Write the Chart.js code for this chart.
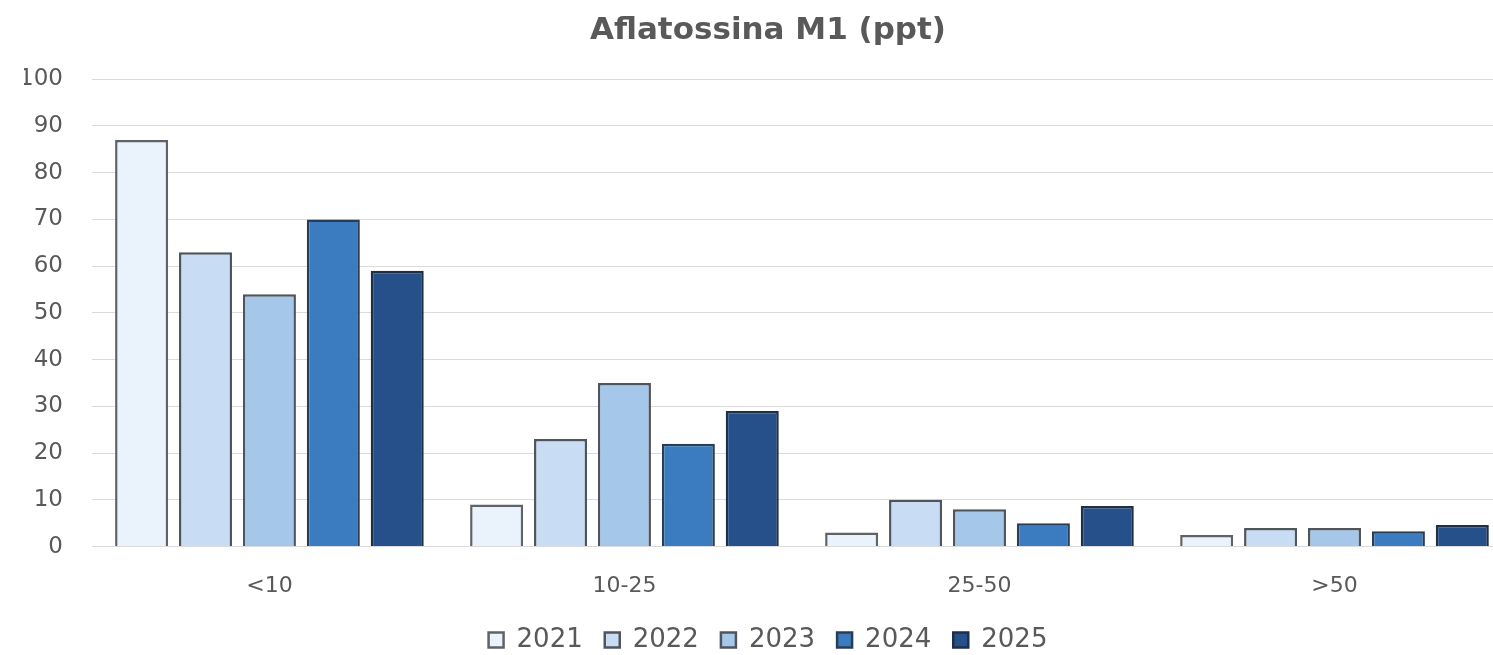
<!DOCTYPE html>
<html lang="it">
<head>
    <meta charset="UTF-8">
    <title>Aflatossina M1 (ppt)</title>
    <script src="https://cdn.jsdelivr.net/npm/chart.js"></script>
    <style>
        html, body {
            margin: 0;
            padding: 0;
            background: #ffffff;
            overflow: hidden;
        }
        /* il grafico originale è tagliato a destra: canvas un po' più largo della finestra */
        .chart-box {
            width: 1512px;
            height: 655px;
        }
    </style>
</head>
<body>
    <div class="chart-box">
        <canvas id="aflaChart"></canvas>
    </div>

    <script>
        // Dati
        const categories = ['<10', '10-25', '25-50', '>50'];
        const years = ['2021', '2022', '2023', '2024', '2025'];
        const values2021 = [87, 9, 3, 2.5];
        const values2022 = [63, 23, 10, 4];
        const values2023 = [54, 35, 8, 4];
        const values2024 = [70, 22, 5, 3.3];
        const values2025 = [59, 29, 8.7, 4.6];
        const yTicks = [0, 10, 20, 30, 40, 50, 60, 70, 80, 90, 100];

        const seriesValues = [values2021, values2022, values2023, values2024, values2025];
        const fillColors = ['#eaf2fc', '#c8ddf4', '#a4c7ea', '#3a7cbf', '#25508a'];
        const edgeColors = ['#5f6368', '#4f555c', '#4f555c', '#2b3d55', '#1f2f46'];

        const textColor = '#595959';
        const fontFamily = "'DejaVu Sans', Verdana, sans-serif";

        const datasets = years.map((year, i) => ({
            label: year,
            data: seriesValues[i],
            backgroundColor: fillColors[i],
            borderColor: edgeColors[i],
            borderWidth: 2.5,
            categoryPercentage: 0.9,
            barPercentage: 0.83
        }));

        const ctx = document.getElementById('aflaChart').getContext('2d');
        new Chart(ctx, {
            type: 'bar',
            data: {
                labels: categories,
                datasets: datasets
            },
            options: {
                responsive: true,
                maintainAspectRatio: false,
                animation: false,
                layout: {
                    padding: { left: 24, right: 0, top: 6, bottom: -8 }
                },
                plugins: {
                    title: {
                        display: true,
                        text: 'Aflatossina M1 (ppt)',
                        color: textColor,
                        font: { family: fontFamily, size: 31, weight: 'bold' },
                        padding: { top: 6, bottom: 30 }
                    },
                    legend: {
                        position: 'bottom',
                        labels: {
                            color: textColor,
                            font: { family: fontFamily, size: 26 },
                            boxWidth: 15,
                            boxHeight: 15,
                            padding: 22
                        }
                    },
                    tooltip: { enabled: false }
                },
                scales: {
                    x: {
                        grid: { display: false },
                        border: { display: false },
                        ticks: {
                            color: textColor,
                            font: { family: fontFamily, size: 22 },
                            padding: 18
                        },
                        // avvicina la legenda alle etichette
                        afterFit: axis => { axis.height -= 12; }
                    },
                    y: {
                        min: 0,
                        max: 100,
                        afterBuildTicks: axis => {
                            axis.ticks = yTicks.map(v => ({ value: v }));
                        },
                        afterFit: axis => { axis.width -= 34; },
                        grid: { color: '#dadada', lineWidth: 1, drawTicks: false },
                        border: { display: false },
                        ticks: {
                            color: textColor,
                            font: { family: fontFamily, size: 23 },
                            padding: 29
                        }
                    }
                }
            }
        });
    </script>
</body>
</html>
